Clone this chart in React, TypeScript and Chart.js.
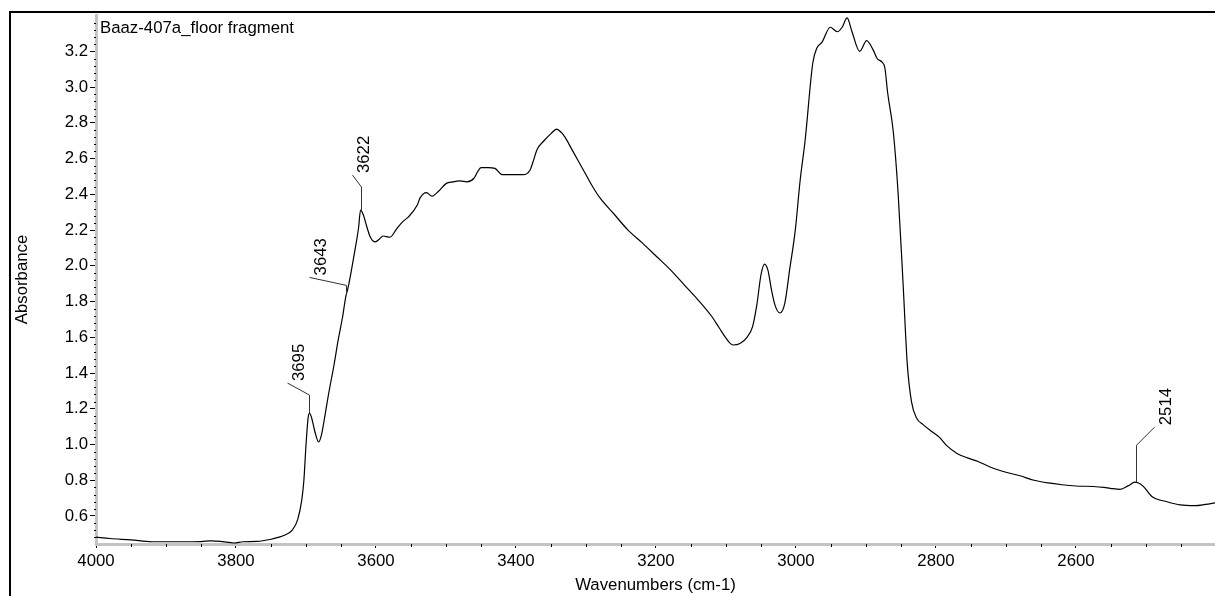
import React, { useEffect, useRef } from "react";
import { Chart, registerables } from "chart.js";

Chart.register(...registerables);

// ---- data ----
const wavenumbers = [
  4000, 3980, 3950, 3920, 3880, 3850, 3835, 3820, 3803, 3790, 3770, 3750, 3740, 3730, 3720,
  3712, 3706, 3703, 3700, 3697, 3695, 3692, 3689, 3686, 3682, 3678, 3674, 3668, 3660, 3654,
  3648, 3643, 3640, 3635, 3630, 3625, 3622, 3618, 3613, 3608, 3601, 3595, 3590, 3580, 3570,
  3561, 3554, 3541, 3537, 3528, 3520, 3510, 3500, 3490, 3480, 3470, 3460, 3455, 3450, 3440,
  3430, 3420, 3410, 3400, 3390, 3380, 3375, 3370, 3360, 3350, 3342, 3335, 3330, 3320, 3310,
  3300, 3290, 3280, 3260, 3240, 3220, 3200, 3180, 3160, 3140, 3120, 3110, 3100, 3095, 3090,
  3080, 3070, 3062, 3056, 3050, 3045, 3040, 3035, 3030, 3023, 3016, 3009, 3001, 2994, 2987,
  2976, 2970, 2963, 2951, 2941, 2934, 2927, 2920, 2909, 2899, 2890, 2884, 2877, 2873, 2869,
  2861, 2854, 2847, 2841, 2835, 2828, 2818, 2805, 2795, 2785, 2770, 2755, 2740, 2720, 2700,
  2680, 2660, 2640, 2620, 2600, 2575, 2560, 2551, 2537, 2525, 2516, 2505, 2491, 2470, 2451,
  2430, 2415, 2401,
];
const absorbance = [
  0.482, 0.474, 0.466, 0.456, 0.456, 0.457, 0.461, 0.457, 0.449, 0.456, 0.458, 0.47, 0.48, 0.494, 0.52,
  0.578, 0.69, 0.8, 0.997, 1.148, 1.176, 1.15, 1.1, 1.053, 1.014, 1.053, 1.137, 1.277, 1.445, 1.585,
  1.708, 1.83, 1.876, 1.977, 2.089, 2.21, 2.312, 2.284, 2.217, 2.16, 2.134, 2.15, 2.167, 2.16, 2.21,
  2.25, 2.272, 2.34, 2.38, 2.41, 2.39, 2.42, 2.46, 2.47, 2.475, 2.47, 2.49, 2.525, 2.55, 2.55,
  2.545, 2.51, 2.51, 2.51, 2.51, 2.535, 2.59, 2.65, 2.7, 2.74, 2.765, 2.745, 2.72, 2.65, 2.58,
  2.51, 2.44, 2.38, 2.29, 2.2, 2.13, 2.055, 1.98, 1.895, 1.81, 1.715, 1.655, 1.595, 1.57, 1.557,
  1.565, 1.6, 1.66, 1.78, 1.95, 2.01, 1.975, 1.865, 1.78, 1.736, 1.79, 1.98, 2.2, 2.48, 2.7,
  3.135, 3.22, 3.25, 3.335, 3.31, 3.335, 3.387, 3.31, 3.2, 3.26, 3.21, 3.16, 3.14, 3.107, 2.967,
  2.75, 2.4, 1.9, 1.45, 1.24, 1.15, 1.11, 1.07, 1.04, 0.995, 0.95, 0.925, 0.905, 0.87, 0.845,
  0.825, 0.8, 0.785, 0.775, 0.768, 0.765, 0.76, 0.755, 0.749, 0.77, 0.789, 0.77, 0.708, 0.68, 0.662,
  0.658, 0.665, 0.674,
];

const xTickValues = [4000, 3800, 3600, 3400, 3200, 3000, 2800, 2600];
const yTickValues = [0.6, 0.8, 1.0, 1.2, 1.4, 1.6, 1.8, 2.0, 2.2, 2.4, 2.6, 2.8, 3.0, 3.2];

const peakLabels = ["3695", "3643", "3622", "2514"];
const peakWavenumbers = [3695, 3643, 3622, 2514];
const peakAbsorbance = [1.176, 1.84, 2.312, 0.789];

const chartTitle = "Baaz-407a_floor fragment";
const xTitle = "Wavenumbers (cm-1)";
const yTitle = "Absorbance";

// ---- styling (not data) ----
const WIDTH = 1215;
const HEIGHT = 596;
const X_MIN = 2401.4;
const X_MAX = 4000;
const Y_MIN = 0.4433;
const Y_MAX = 3.4036;
const FONT_FAMILY = '"Liberation Sans", Arial, Helvetica, sans-serif';
const FONT_SIZE = 16.8;
const leaderStyles = [
  { rise: 18, dx: -22, dy: -12 },
  { rise: 9, dx: -37, dy: -8 },
  { rise: 23, dx: -9, dy: -12 },
  { rise: 37, dx: 18, dy: -18 },
];

const decorPlugin = {
  id: "decor",
  beforeDraw(chart: any) {
    const ctx = chart.ctx;
    ctx.save();
    ctx.fillStyle = "#fff";
    ctx.fillRect(0, 0, chart.width, chart.height);
    ctx.strokeStyle = "#000";
    ctx.lineWidth = 2;
    ctx.strokeRect(10, 12, 3000, 3000);
    ctx.restore();
  },
  afterDatasetsDraw(chart: any) {
    const ctx = chart.ctx;
    const xs = chart.scales.x;
    const ys = chart.scales.y;
    const area = chart.chartArea;
    ctx.save();
    // minor ticks
    ctx.fillStyle = "#000";
    for (let w = 2450; w < 4000; w += 50) {
      if (w % 200 === 0) continue;
      const px = Math.round(xs.getPixelForValue(w));
      ctx.fillRect(px, area.bottom, 1, 3);
    }
    for (let i = Math.ceil(Y_MIN / 0.04); i * 0.04 < Y_MAX; i++) {
      if (i % 5 === 0) continue;
      const py = Math.round(ys.getPixelForValue(i * 0.04));
      ctx.fillRect(area.left - 2, py, 2, 1);
    }
    // title inside plot
    ctx.font = `${FONT_SIZE}px ${FONT_FAMILY}`;
    ctx.textAlign = "left";
    ctx.textBaseline = "middle";
    ctx.fillText(chartTitle, area.left + 4, area.top + 13.5);
    // peak annotations
    ctx.strokeStyle = "#333";
    ctx.lineWidth = 1;
    peakWavenumbers.forEach((w, i) => {
      const st = leaderStyles[i];
      const px = Math.round(xs.getPixelForValue(w)) + 0.5;
      const py = ys.getPixelForValue(peakAbsorbance[i]);
      const topY = py - st.rise;
      const ex = px + st.dx;
      const ey = topY + st.dy;
      ctx.beginPath();
      ctx.moveTo(px, py);
      ctx.lineTo(px, topY);
      ctx.lineTo(ex, ey);
      ctx.stroke();
      ctx.save();
      ctx.translate(ex + 16, ey - 2);
      ctx.rotate(-Math.PI / 2);
      ctx.textAlign = "left";
      ctx.textBaseline = "alphabetic";
      ctx.fillText(peakLabels[i], 0, 0);
      ctx.restore();
    });
    ctx.restore();
  },
};

export default function App() {
  const canvasRef = useRef<HTMLCanvasElement | null>(null);

  useEffect(() => {
    if (!canvasRef.current) return;
    document.body.style.margin = "0";
    Chart.defaults.font.family = FONT_FAMILY;
    const points = wavenumbers.map((w, i) => ({ x: w, y: absorbance[i] }));
    const chart = new Chart(canvasRef.current, {
      type: "line",
      data: {
        datasets: [
          {
            data: points,
            borderColor: "#000",
            borderWidth: 1.2,
            pointRadius: 0,
            fill: false,
            cubicInterpolationMode: "monotone",
          },
        ],
      },
      options: {
        responsive: false,
        animation: false,
        devicePixelRatio: 1,
        layout: { padding: { top: 15, right: 0, left: 0, bottom: 0 } },
        plugins: {
          legend: { display: false },
          tooltip: { enabled: false },
          title: { display: false },
        },
        scales: {
          x: {
            type: "linear",
            reverse: true,
            min: X_MIN,
            max: X_MAX,
            afterBuildTicks: (scale: any) => {
              scale.ticks = xTickValues.map((v) => ({ value: v }));
            },
            afterFit: (scale: any) => {
              scale.height = 52;
            },
            ticks: {
              autoSkip: false,
              maxRotation: 0,
              color: "#000",
              padding: 3,
              font: { size: FONT_SIZE, family: FONT_FAMILY },
              callback: (v: any) => String(v),
            },
            grid: {
              drawOnChartArea: false,
              drawTicks: true,
              tickLength: 4,
              color: "#000",
            },
            border: { color: "#c4c4c4", width: 3 },
            title: {
              display: true,
              text: xTitle,
              color: "#000",
              font: { size: FONT_SIZE, family: FONT_FAMILY },
              padding: { top: 0, bottom: 1 },
            },
          },
          y: {
            type: "linear",
            min: Y_MIN,
            max: Y_MAX,
            afterBuildTicks: (scale: any) => {
              scale.ticks = yTickValues.map((v) => ({ value: v }));
            },
            afterFit: (scale: any) => {
              scale.width = 96;
            },
            ticks: {
              autoSkip: false,
              color: "#000",
              padding: 2,
              font: { size: FONT_SIZE, family: FONT_FAMILY },
              callback: (v: any) => Number(v).toFixed(1),
            },
            grid: {
              drawOnChartArea: false,
              drawTicks: true,
              tickLength: 6,
              color: "#000",
            },
            border: { color: "#c4c4c4", width: 3 },
            title: {
              display: true,
              text: yTitle,
              color: "#000",
              font: { size: FONT_SIZE, family: FONT_FAMILY },
              padding: { top: 12, bottom: 0 },
            },
          },
        },
      },
      plugins: [decorPlugin],
    } as any);
    return () => chart.destroy();
  }, []);

  return (
    <div style={{ width: WIDTH, height: HEIGHT, overflow: "hidden", background: "#fff" }}>
      <canvas ref={canvasRef} width={WIDTH} height={HEIGHT} style={{ display: "block" }} />
    </div>
  );
}
